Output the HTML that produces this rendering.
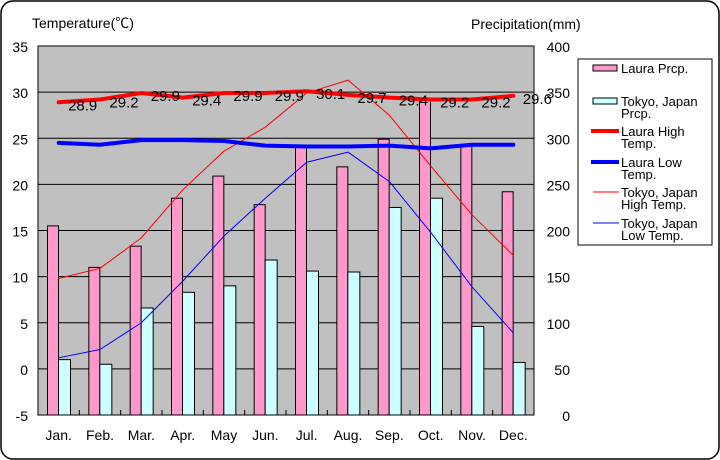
<!DOCTYPE html>
<html><head><meta charset="utf-8"><style>
body{margin:0;background:#fff}
svg{display:block;font-family:"Liberation Sans","Noto Sans CJK JP",sans-serif}
</style></head><body>
<svg id="chart" width="720" height="460" viewBox="0 0 720 460">
<rect x="1" y="1" width="718" height="458" rx="12" fill="#fff" stroke="#000" stroke-width="1.5"/>
<text x="32" y="28" font-size="14">Temperature(℃)</text>
<text x="471" y="29" font-size="14">Precipitation(mm)</text>
<rect x="38" y="46" width="496" height="369" fill="#c0c0c0" stroke="#000"/>
<g id="grid"></g><g id="bars"></g><g id="lines"></g><g id="labels"></g><g id="axes"></g>
<g>
<rect x="578" y="59" width="134" height="186" fill="#fff" stroke="#000"/>
<g font-size="13">
<rect x="593" y="65" width="24" height="6" fill="#ff99cc" stroke="#000"/>
<text x="621" y="73">Laura Prcp.</text>
<rect x="593" y="98" width="24" height="6" fill="#ccffff" stroke="#000"/>
<text x="621" y="106">Tokyo, Japan<tspan x="621" y="118">Prcp.</tspan></text>
<line x1="591" y1="131" x2="619" y2="131" stroke="#ff0000" stroke-width="4"/>
<text x="621" y="136">Laura High<tspan x="621" y="148">Temp.</tspan></text>
<line x1="591" y1="162" x2="619" y2="162" stroke="#0000ff" stroke-width="4"/>
<text x="621" y="167">Laura Low<tspan x="621" y="179">Temp.</tspan></text>
<line x1="593" y1="192" x2="619" y2="192" stroke="#ff0000" stroke-width="1"/>
<text x="621" y="197">Tokyo, Japan<tspan x="621" y="209">High Temp.</tspan></text>
<line x1="593" y1="223" x2="619" y2="223" stroke="#0000ff" stroke-width="1"/>
<text x="621" y="228">Tokyo, Japan<tspan x="621" y="240">Low Temp.</tspan></text>
</g></g>
</svg>
<script>
const months=["Jan.","Feb.","Mar.","Apr.","May","Jun.","Jul.","Aug.","Sep.","Oct.","Nov.","Dec."];
const lauraPrcp=[205,160,183,235,259,228,290,269,299,341,292,242];
const tokyoPrcp=[60,55,116,133,140,168,156,155,225,235,96,57];
const lauraHigh=[28.9,29.2,29.9,29.4,29.9,29.9,30.1,29.7,29.4,29.2,29.2,29.6];
const lauraLow=[24.5,24.3,24.8,24.8,24.7,24.2,24.1,24.1,24.2,23.9,24.3,24.3];
const tokyoHigh=[9.8,10.9,14.2,19.4,23.6,26.2,29.9,31.3,27.5,22.0,16.7,12.3];
const tokyoLow=[1.2,2.1,5.0,9.5,14.4,18.5,22.4,23.5,20.3,14.8,8.9,3.9];
const tempTicks=[-5,0,5,10,15,20,25,30,35];
const prcpTicks=[0,50,100,150,200,250,300,350,400];
const NS="http://www.w3.org/2000/svg";
const L=38,R=534,T=46,B=415,slot=(R-L)/12;
const yT=v=>B-(v+5)/40*(B-T);
const yP=v=>B-v/400*(B-T);
const xC=i=>L+slot*(i+0.5);
function mk(tag,attrs,parent){const e=document.createElementNS(NS,tag);for(const k in attrs)e.setAttribute(k,attrs[k]);document.getElementById(parent).appendChild(e);return e;}
tempTicks.forEach((t,i)=>{
 if(t>-5&&t<35){const g=mk('line',{x1:L,x2:R,y1:yT(t),y2:yT(t),stroke:'#000'},'grid');
 
 }
 const a=mk('text',{x:28,y:yT(t)+6,'font-size':14,'text-anchor':'end'},'axes');a.textContent=t;
 
 
 const b=mk('text',{x:570,y:yP(prcpTicks[i])+6,'font-size':14,'text-anchor':'end'},'axes');b.textContent=prcpTicks[i];
 
 
});
months.forEach((m,i)=>{
 const tk=mk('line',{x1:L+slot*(i+1),x2:L+slot*(i+1),y1:B,y2:B-5,stroke:'#000'},'axes');
 
 
 const t=mk('text',{x:xC(i),y:440,'font-size':14,'text-anchor':'middle'},'axes');t.textContent=m;
 
 
 const x0=L+slot*i;
 const p=mk('rect',{x:x0+9.5,y:yP(lauraPrcp[i]),width:11,height:B-yP(lauraPrcp[i]),fill:'#ff99cc',stroke:'#000'},'bars');
 
 
 const c=mk('rect',{x:x0+20.5,y:yP(tokyoPrcp[i]),width:12,height:B-yP(tokyoPrcp[i]),fill:'#ccffff',stroke:'#000'},'bars');
 
 
});
function line(arr,color,w,name){
 const pl=mk('polyline',{points:arr.map((v,i)=>xC(i)+','+yT(v)).join(' '),fill:'none',stroke:color,'stroke-width':w,'stroke-linejoin':'round','stroke-linecap':'round'},'lines');
 
 
}
line(tokyoHigh,'#ff0000',1,'line-tokyo-high');
line(tokyoLow,'#0000ff',1,'line-tokyo-low');
line(lauraHigh,'#ff0000',4,'line-laura-high');
line(lauraLow,'#0000ff',4,'line-laura-low');
lauraHigh.forEach((v,i)=>{
 const t=mk('text',{x:xC(i)+24,y:yT(v)+8,'font-size':15,'text-anchor':'middle'},'labels');t.textContent=v.toFixed(1);
 
 
});
</script>
</body></html>
